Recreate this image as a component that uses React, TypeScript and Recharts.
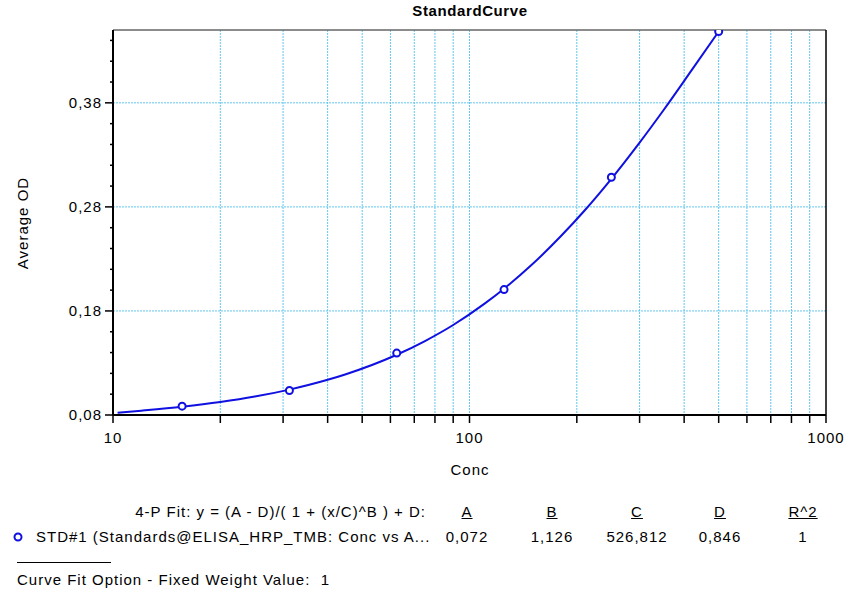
import {
  ComposedChart,
  Line,
  Scatter,
  XAxis,
  YAxis,
  CartesianGrid,
  ReferenceLine,
} from "recharts";

// standards (Conc vs Average OD)
const stdConc = [15.625, 31.25, 62.5, 125, 250, 500];
const stdOD = [0.0885, 0.1035, 0.1395, 0.2005, 0.3085, 0.4485];

// fitted curve
const fitConc = [10.3, 12, 15.625, 20, 25, 31.25, 40, 45, 62.5, 75, 90, 110, 125, 150, 180, 210, 250, 300, 350, 420, 500];
const fitOD = [0.0822, 0.0842, 0.088, 0.0925, 0.0977, 0.1044, 0.1138, 0.1192, 0.1379, 0.1511, 0.1665, 0.1868, 0.2014, 0.2248, 0.2515, 0.2763, 0.307, 0.3418, 0.3729, 0.4114, 0.4486];

const xTicks = [10, 20, 30, 40, 50, 60, 70, 80, 90, 100, 200, 300, 400, 500, 600, 700, 800, 900, 1000];
const xLabels = [10, 100, 1000];
const xGrid = [20, 30, 40, 50, 60, 70, 80, 90, 100, 200, 300, 400, 500, 600, 700, 800, 900];
const yTicks = [0.08, 0.1, 0.12, 0.14, 0.16, 0.18, 0.2, 0.22, 0.24, 0.26, 0.28, 0.3, 0.32, 0.34, 0.36, 0.38, 0.4, 0.42, 0.44];
const yLabels = [0.08, 0.18, 0.28, 0.38];
const yGrid = [0.18, 0.28, 0.38];

const fitHeader = "4-P Fit: y = (A - D)/( 1 + (x/C)^B ) + D:";
const paramNames = ["A", "B", "C", "D", "R^2"];
const paramValues = ["0,072", "1,126", "526,812", "0,846", "1"];
const seriesName = "STD#1 (Standards@ELISA_HRP_TMB: Conc vs A...";

const stdData = stdConc.map((x, i) => ({ x, y: stdOD[i] }));
const fitData = fitConc.map((x, i) => ({ x, y: fitOD[i] }));

const FONT = "'Liberation Sans', Arial, sans-serif";
const GRID = "#62C6EE";
const BLUE = "#1010E0";
const TXT = { fontSize: 15, letterSpacing: 1 };

const isMajor = (v: number, list: number[]) =>
  list.some((m) => Math.abs(m - v) < 1e-6);

function XTick(props: any) {
  const { x, y, payload } = props;
  const v = payload.value;
  return (
    <g>
      <line x1={x} x2={x} y1={y} y2={y + 8} stroke="#000" strokeWidth={1.5} />
      {isMajor(v, xLabels) && (
        <text x={x} y={y + 28} textAnchor="middle" fontSize={15} letterSpacing={1} fill="#000" fontFamily={FONT}>
          {v}
        </text>
      )}
    </g>
  );
}

function YTick(props: any) {
  const { x, y, payload } = props;
  const v = payload.value;
  const major = isMajor(v, yLabels);
  return (
    <g>
      <line x1={x - (major ? 8 : 3)} x2={x} y1={y} y2={y} stroke="#000" strokeWidth={1.5} />
      {major && (
        <text x={x - 11} y={y + 5} textAnchor="end" fontSize={15} letterSpacing={1} fill="#000" fontFamily={FONT}>
          {v.toFixed(2).replace(".", ",")}
        </text>
      )}
    </g>
  );
}

const cols = [467, 552, 637, 720, 803];

export default function App() {
  return (
    <div style={{ position: "absolute", left: 0, top: 0, width: 847, height: 596, background: "#fff", fontFamily: FONT }}>
      <div style={{ position: "absolute", left: 470, top: 2, transform: "translateX(-50%)", fontSize: 15, letterSpacing: 0.6, fontWeight: 700, whiteSpace: "nowrap" }}>
        StandardCurve
      </div>
      <div style={{ position: "absolute", left: 22, top: 223, transform: "translate(-50%,-50%) rotate(-90deg)", ...TXT, whiteSpace: "nowrap" }}>
        Average OD
      </div>
      <div style={{ position: "absolute", left: 470, top: 461, transform: "translateX(-50%)", ...TXT }}>
        Conc
      </div>
      <ComposedChart
        width={847}
        height={596}
        margin={{ top: 30, right: 21, bottom: 151, left: 53 }}
        style={{ position: "absolute", left: 0, top: 0 }}
      >
        <CartesianGrid
          stroke={GRID}
          strokeDasharray="2 1"
          horizontalValues={yGrid}
          verticalValues={xGrid}
        />
        <XAxis
          dataKey="x"
          type="number"
          scale="log"
          domain={[10, 1000]}
          ticks={xTicks}
          allowDataOverflow
          tick={<XTick />}
          tickLine={false}
          tickSize={0}
          tickMargin={0}
          height={30}
          axisLine={{ stroke: "#000", strokeWidth: 2 }}
          interval={0}
        />
        <YAxis
          dataKey="y"
          type="number"
          domain={[0.08, 0.45]}
          ticks={yTicks}
          allowDataOverflow
          tick={<YTick />}
          tickLine={false}
          tickSize={0}
          tickMargin={0}
          width={60}
          axisLine={{ stroke: "#000", strokeWidth: 2 }}
          interval={0}
        />
        <ReferenceLine y={0.45} stroke="#666" strokeWidth={1.5} />
        <ReferenceLine x={1000} stroke="#000" strokeWidth={1.5} />
        <Line
          data={fitData}
          dataKey="y"
          type="monotone"
          stroke={BLUE}
          strokeWidth={2}
          dot={false}
          activeDot={false}
          isAnimationActive={false}
        />
        <Scatter
          data={stdData}
          dataKey="y"
          fill="none"
          isAnimationActive={false}
          shape={(p: any) => (
            <circle cx={p.cx} cy={p.cy} r={3.5} fill="#fff" stroke={BLUE} strokeWidth={2} />
          )}
        />
      </ComposedChart>

      <div style={{ position: "absolute", right: 847 - 426, top: 503, ...TXT, whiteSpace: "nowrap" }}>
        {fitHeader}
      </div>
      {paramNames.map((n, i) => (
        <div key={n} style={{ position: "absolute", left: cols[i], top: 503, transform: "translateX(-50%)", ...TXT, textDecoration: "underline" }}>
          {n}
        </div>
      ))}
      <svg style={{ position: "absolute", left: 12, top: 531 }} width={12} height={12}>
        <circle cx={6} cy={6} r={3.5} fill="#fff" stroke={BLUE} strokeWidth={2} />
      </svg>
      <div style={{ position: "absolute", left: 36, top: 528, ...TXT, whiteSpace: "nowrap" }}>
        {seriesName}
      </div>
      {paramValues.map((v, i) => (
        <div key={i} style={{ position: "absolute", left: cols[i], top: 528, transform: "translateX(-50%)", ...TXT }}>
          {v}
        </div>
      ))}
      <div style={{ position: "absolute", left: 17, top: 562, width: 94, borderTop: "1px solid #000" }} />
      <div style={{ position: "absolute", left: 17, top: 571, ...TXT, whiteSpace: "pre" }}>
        {"Curve Fit Option - Fixed Weight Value:  1"}
      </div>
    </div>
  );
}
